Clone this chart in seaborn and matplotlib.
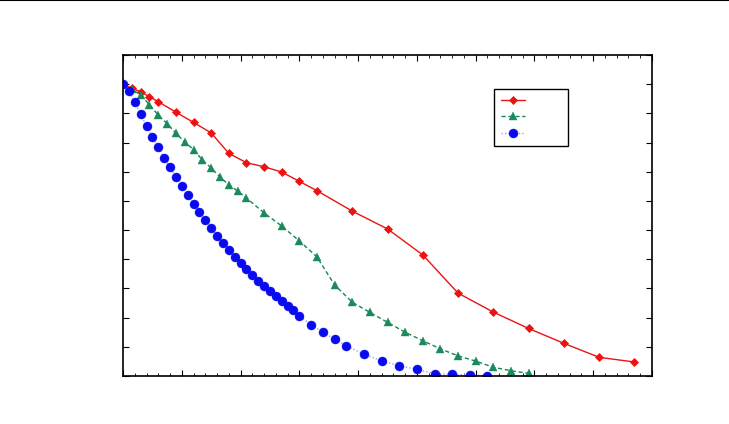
import matplotlib
matplotlib.use("Agg")
import matplotlib.pyplot as plt
import matplotlib.lines as mlines
from matplotlib.ticker import MultipleLocator
import numpy as np
import pandas as pd
import seaborn as sns

# ---- data ----
red_x = [0, 1.5, 3, 4.5, 6, 9, 12, 15, 18, 21, 24, 27, 30, 33,
         39, 45, 51, 57, 63, 69, 75, 81, 87]
red_y = [1.0, 0.986, 0.974, 0.957, 0.940, 0.904, 0.869, 0.833, 0.763, 0.731,
         0.717, 0.699, 0.667, 0.635, 0.565, 0.504, 0.415, 0.284, 0.219, 0.163,
         0.112, 0.064, 0.048]

green_x = [0, 1.5, 3, 4.5, 6, 7.5, 9, 10.5, 12, 13.5, 15, 16.5, 18, 19.5, 21,
           24, 27, 30, 33, 36, 39, 42, 45, 48, 51, 54, 57, 60, 63, 66, 69]
green_y = [1.0, 0.983, 0.963, 0.930, 0.894, 0.865, 0.832, 0.802, 0.776, 0.740,
           0.713, 0.682, 0.655, 0.634, 0.610, 0.559, 0.514, 0.463, 0.408, 0.312,
           0.253, 0.218, 0.184, 0.150, 0.121, 0.093, 0.069, 0.051, 0.030, 0.018,
           0.009]

blue_x = [0, 1, 2, 3, 4, 5, 6, 7, 8, 9, 10, 11, 12, 13, 14, 15, 16, 17, 18, 19,
          20, 21, 22, 23, 24, 25, 26, 27, 28, 29, 30, 32, 34, 36, 38, 41, 44,
          47, 50, 53, 56, 59, 62]
blue_y = [1.0, 0.977, 0.938, 0.897, 0.857, 0.819, 0.785, 0.748, 0.715, 0.683,
          0.651, 0.620, 0.591, 0.562, 0.535, 0.507, 0.481, 0.456, 0.432, 0.408,
          0.386, 0.365, 0.346, 0.327, 0.309, 0.292, 0.273, 0.257, 0.241, 0.225,
          0.206, 0.176, 0.150, 0.127, 0.103, 0.075, 0.052, 0.035, 0.023, 0.008,
          0.006, 0.003, 0.001]

series_names = ["Set A", "Set B", "Set C"]

sns.set_theme(style="ticks")
plt.rcParams["font.family"] = ["DejaVu Sans"]

fig = plt.figure(figsize=(7.29, 4.24), dpi=100)
ax = fig.add_axes([123 / 729, 1 - 376 / 424, (652 - 123) / 729, (376 - 55) / 424])

df_r = pd.DataFrame({"x": red_x, "y": red_y})
df_g = pd.DataFrame({"x": green_x, "y": green_y})
df_b = pd.DataFrame({"x": blue_x, "y": blue_y})

sns.lineplot(data=df_r, x="x", y="y", ax=ax, color="#ee1111", linewidth=1.0,
             marker="D", markersize=4.5, markeredgewidth=0.5,
             markeredgecolor="#ee1111", label=series_names[0], sort=False)
sns.lineplot(data=df_g, x="x", y="y", ax=ax, color="#118855", linewidth=1.0,
             linestyle=(0, (3, 2)), marker="^", markersize=5.5,
             markeredgewidth=0.3, markerfacecolor="#1a8a5a",
             markeredgecolor="#1a8a5a", label=series_names[1], sort=False)
sns.lineplot(data=df_b, x="x", y="y", ax=ax, color="#9a9aff", linewidth=1.0,
             linestyle=(0, (1, 1.5)), marker="o", markersize=6.5,
             markeredgewidth=0.3, markerfacecolor="#0a0af0",
             markeredgecolor="#0a0af0", label=series_names[2], sort=False)

ax.set_xlim(0, 90)
ax.set_ylim(0, 1.1)
ax.xaxis.set_major_locator(MultipleLocator(10))
ax.xaxis.set_minor_locator(MultipleLocator(2))
ax.yaxis.set_major_locator(MultipleLocator(0.1))
ax.tick_params(axis="both", which="both", direction="in", top=True, right=True,
               color="black", labelcolor="white", labelsize=7)
ax.tick_params(which="major", length=4, width=0.8)
ax.tick_params(which="minor", length=2.5, width=0.6)
ax.set_xlabel("")
ax.set_ylabel("")
for s in ax.spines.values():
    s.set_color("black")
    s.set_linewidth(1.2)

leg = ax.legend(loc="upper left", bbox_to_anchor=((494 - 123) / 529, 1 - (89 - 55) / 321),
                frameon=True, fancybox=False, edgecolor="black", framealpha=1,
                handlelength=2.2, handletextpad=0.6, borderpad=0.6,
                labelspacing=0.6, fontsize=8, borderaxespad=0)
leg.get_frame().set_linewidth(1.0)
for t in leg.get_texts():
    t.set_color("white")

fig.add_artist(mlines.Line2D([0, 1], [0.999, 0.999], transform=fig.transFigure,
                             color="black", linewidth=1.5))

fig.savefig("out.png", dpi=100, facecolor="white")
